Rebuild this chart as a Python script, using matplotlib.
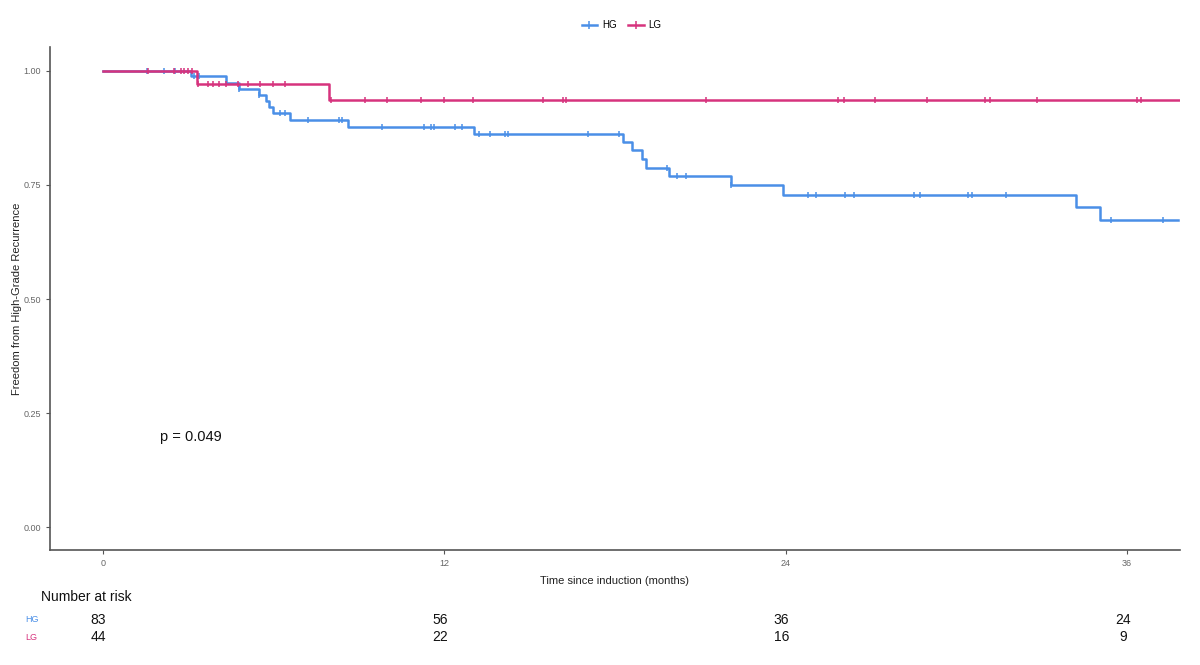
import numpy as np
import matplotlib
matplotlib.use("Agg")
import matplotlib.pyplot as plt

plt.rcParams['font.family'] = ['Liberation Sans', 'DejaVu Sans']

# Kaplan-Meier steps: (time of drop, survival after the drop)
hg_times = [0, 3.1, 4.35, 4.8, 5.5, 5.75, 5.85, 6.0, 6.6, 8.62, 13.06, 18.3, 18.6,
            18.97, 19.09, 19.9, 22.1, 23.9, 34.2, 35.05, 37.8]
hg_surv = [1.0, 0.989, 0.973, 0.961, 0.948, 0.935, 0.921, 0.907, 0.893, 0.878, 0.861,
           0.844, 0.827, 0.808, 0.788, 0.769, 0.750, 0.729, 0.702, 0.674, 0.674]
hg_censor = [1.55, 2.15, 2.55, 3.2, 3.4, 4.8, 5.5, 6.22, 6.4, 7.22, 8.3, 8.41, 9.81,
             11.31, 11.54, 11.64, 12.39, 12.62, 13.24, 13.63, 14.14, 14.23, 17.06,
             18.15, 19.82, 20.2, 20.49, 22.1, 24.78, 25.07, 26.1, 26.4, 28.53, 28.74,
             30.43, 30.55, 31.74, 35.43, 37.25]

lg_times = [0, 3.3, 7.94, 37.86]
lg_surv = [1.0, 0.971, 0.937, 0.937]
lg_censor = [1.6, 2.5, 2.75, 2.85, 3.0, 3.15, 3.36, 3.7, 3.88, 4.1, 4.35, 4.76, 5.11,
             5.52, 5.99, 6.42, 8.04, 9.23, 9.98, 11.19, 12.01, 13.0, 15.46, 16.19,
             16.3, 21.2, 25.86, 26.04, 27.16, 28.98, 31.0, 31.2, 32.84, 36.35, 36.5]

risk_times = [0, 12, 24, 36]
hg_risk = [83, 56, 36, 24]
lg_risk = [44, 22, 16, 9]

blue = '#4A8FE7'
pink = '#D6337D'


def surv_at(times, surv, t):
    idx = np.searchsorted(times, t, side='right') - 1
    return np.array(surv)[idx]


fig = plt.figure(figsize=(12, 6.65), dpi=100)
ax = fig.add_axes([0.0417, 0.173, 0.9413, 0.756])

for times, surv, cens, col, lab in [(hg_times, hg_surv, hg_censor, blue, 'HG'),
                                     (lg_times, lg_surv, lg_censor, pink, 'LG')]:
    ax.step(times, surv, where='post', color=col, lw=1.8, label=lab)
    ax.plot(cens, surv_at(times, surv, cens), ls='none', marker='|',
            markersize=5, mew=1.1, color=col)

ax.set_xlim(-1.85, 37.85)
ax.set_ylim(-0.05, 1.052)
ax.set_xticks([0, 12, 24, 36])
ax.set_yticks([0, 0.25, 0.5, 0.75, 1.0])
ax.set_yticklabels(['0.00', '0.25', '0.50', '0.75', '1.00'])
for s in ['top', 'right']:
    ax.spines[s].set_visible(False)
for s in ['left', 'bottom']:
    ax.spines[s].set_color('#555555')
    ax.spines[s].set_linewidth(1.2)
ax.tick_params(colors='#555555', labelsize=6.5, length=3, width=0.8)
for lbl in ax.get_xticklabels() + ax.get_yticklabels():
    lbl.set_color('#666666')
ax.set_xlabel('Time since induction (months)', fontsize=8, color='#222222', labelpad=6)
ax.set_ylabel('Freedom from High-Grade Recurrence', fontsize=8, color='#222222')
ax.yaxis.set_label_coords(-0.025, 0.5)
ax.text(2.0, 0.197, 'p = 0.049', fontsize=10.5, color='#111111', va='center', ha='left')

handles = [plt.Line2D([], [], color=blue, lw=1.8, marker='|', markersize=6, mew=1.1),
           plt.Line2D([], [], color=pink, lw=1.8, marker='|', markersize=6, mew=1.1)]
fig.legend(handles, ['HG', 'LG'], loc='center', bbox_to_anchor=(0.518, 0.962), ncol=2,
           frameon=False, fontsize=7, handlelength=1.6, columnspacing=1.2,
           handletextpad=0.5)

# risk table
rax = fig.add_axes([0.0417, 0.02, 0.9413, 0.08])
rax.set_xlim(-1.85, 37.85)
rax.set_ylim(0, 1)
rax.axis('off')
for t, h, l in zip(risk_times, hg_risk, lg_risk):
    rax.text(t - 0.15, 0.6, str(h), ha='center', va='center', fontsize=10, color='#111111')
    rax.text(t - 0.15, 0.28, str(l), ha='center', va='center', fontsize=10, color='#111111')
fig.text(0.034, 0.102, 'Number at risk', fontsize=10, color='#111111', va='center')
fig.text(0.021, 0.0677, 'HG', fontsize=6.5, color=blue, va='center')
fig.text(0.021, 0.042, 'LG', fontsize=6.5, color=pink, va='center')

fig.savefig('out.png', dpi=100, facecolor='white')
